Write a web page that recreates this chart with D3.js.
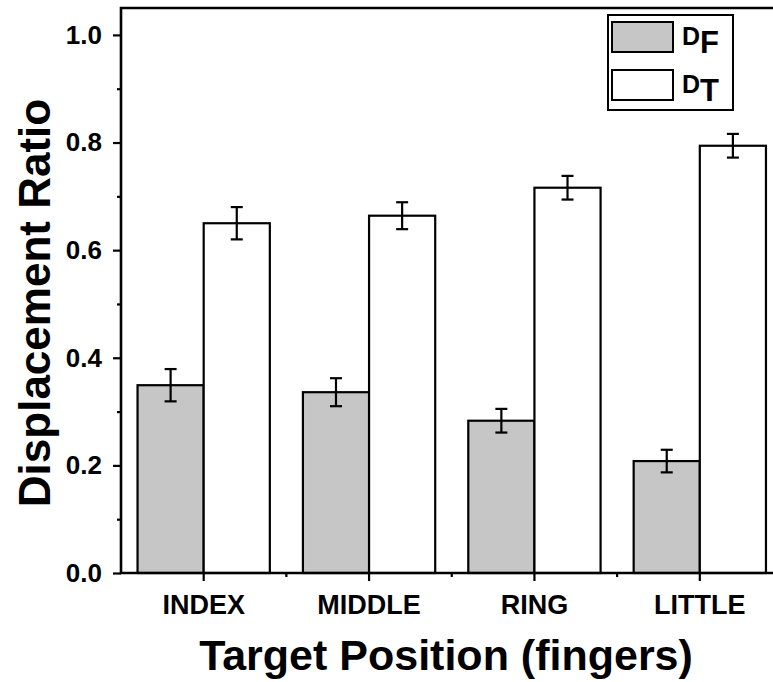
<!DOCTYPE html>
<html>
<head>
<meta charset="utf-8">
<script src="https://cdn.jsdelivr.net/npm/d3@7"></script>
<style>
  body { margin: 0; background: #fff; }
  svg { display: block; font-family: "Liberation Sans", Arial, sans-serif; font-weight: bold; }
</style>
</head>
<body>
<div id="chart"></div>
<script>
const categories = ['INDEX', 'MIDDLE', 'RING', 'LITTLE'];
const seriesNames = ['F', 'T'];
const dfValues = [0.349, 0.336, 0.283, 0.208];
const dfErrors = [0.030, 0.026, 0.022, 0.021];
const dtValues = [0.650, 0.664, 0.716, 0.794];
const dtErrors = [0.030, 0.025, 0.022, 0.022];
const yTicks = [0.0, 0.2, 0.4, 0.6, 0.8, 1.0];

const W = 773, H = 682;
const margin = {left: 121, right: 782.5, top: 8, bottom: 573};
const fontFamily = '"Liberation Sans", Arial, sans-serif';

const svg = d3.select('#chart').append('svg')
  .attr('width', W)
  .attr('height', H);

const x = d3.scaleBand()
  .domain(categories)
  .range([margin.left, margin.right])
  .paddingInner(0.2)
  .paddingOuter(0.1);

const xs = d3.scaleBand()
  .domain(seriesNames)
  .range([0, x.bandwidth()]);

const y = d3.scaleLinear()
  .domain([0, 1.05])
  .range([margin.bottom, margin.top]);

const series = [
  {name: 'F', fill: '#c6c6c6', values: dfValues, errors: dfErrors},
  {name: 'T', fill: '#ffffff', values: dtValues, errors: dtErrors}
];

// bars
series.forEach(s => {
  const rows = categories.map((c, i) => ({cat: c, v: s.values[i], e: s.errors[i]}));
  const g = svg.append('g');
  g.selectAll('rect')
    .data(rows)
    .join('rect')
      .attr('x', d => x(d.cat) + xs(s.name))
      .attr('y', d => y(d.v))
      .attr('width', xs.bandwidth())
      .attr('height', d => y(0) - y(d.v))
      .attr('fill', s.fill)
      .attr('stroke', '#000')
      .attr('stroke-width', 2.2);

  // error bars
  const eb = g.selectAll('g.err')
    .data(rows)
    .join('g')
      .attr('class', 'err')
      .attr('transform', d => `translate(${x(d.cat) + xs(s.name) + xs.bandwidth() / 2},0)`);
  eb.append('line')
    .attr('y1', d => y(d.v + d.e)).attr('y2', d => y(d.v - d.e))
    .attr('stroke', '#000').attr('stroke-width', 2.2);
  eb.selectAll('line.cap')
    .data(d => [d.v + d.e, d.v - d.e])
    .join('line')
      .attr('class', 'cap')
      .attr('x1', -6).attr('x2', 6)
      .attr('y1', d => y(d)).attr('y2', d => y(d))
      .attr('stroke', '#000').attr('stroke-width', 2.2);
});

// y axis
const yAxis = svg.append('g')
  .attr('transform', `translate(${margin.left},0)`)
  .call(d3.axisLeft(y).tickValues(yTicks).tickFormat(d3.format('.1f')).tickSize(8).tickPadding(11));
yAxis.select('.domain').remove();
yAxis.selectAll('text')
  .attr('font-size', 26).attr('font-weight', 'bold').attr('fill', '#000')
  .attr('font-family', fontFamily);
yAxis.selectAll('line').attr('stroke-width', 2.2);
svg.append('g')
  .attr('transform', `translate(${margin.left},0)`)
  .call(d3.axisLeft(y).tickValues(d3.range(0.1, 1.05, 0.2)).tickSize(4).tickFormat(''))
  .call(g => g.select('.domain').remove())
  .selectAll('line').attr('stroke-width', 2.2);

// x axis
const xAxis = svg.append('g')
  .attr('transform', `translate(0,${margin.bottom})`)
  .call(d3.axisBottom(x).tickSize(8));
xAxis.select('.domain').remove();
xAxis.selectAll('text')
  .attr('y', 41).attr('dy', null)
  .attr('font-size', 27).attr('font-weight', 'bold').attr('fill', '#000')
  .attr('font-family', fontFamily);
xAxis.selectAll('line').attr('stroke-width', 2.2);
// minor ticks between groups
svg.append('g')
  .selectAll('line')
  .data(categories.slice(1))
  .join('line')
    .attr('x1', d => x(d) - x.step() * x.paddingInner() / 2)
    .attr('x2', d => x(d) - x.step() * x.paddingInner() / 2)
    .attr('y1', margin.bottom).attr('y2', margin.bottom + 4)
    .attr('stroke', '#000').attr('stroke-width', 2.2);

// frame: left, bottom, top
svg.append('path')
  .attr('d', `M${W},${margin.top}H${margin.left}V${margin.bottom}H${W}`)
  .attr('fill', 'none')
  .attr('stroke', '#000')
  .attr('stroke-width', 2.6);

// axis titles
svg.append('text')
  .attr('transform', 'translate(50,303) rotate(-90)')
  .attr('text-anchor', 'middle')
  .attr('font-size', 44)
  .text('Displacement Ratio');

svg.append('text')
  .attr('x', 446)
  .attr('y', 670)
  .attr('text-anchor', 'middle')
  .attr('font-size', 43)
  .text('Target Position (fingers)');

// legend
const legend = svg.append('g').attr('transform', 'translate(608,15)');
legend.append('rect')
  .attr('width', 125).attr('height', 95)
  .attr('fill', '#fff').attr('stroke', '#000').attr('stroke-width', 2);
const items = legend.selectAll('g.item')
  .data(series)
  .join('g')
    .attr('class', 'item')
    .attr('transform', (d, i) => `translate(4,${7 + i * 48})`);
items.append('rect')
  .attr('width', 61).attr('height', 30)
  .attr('fill', d => d.fill)
  .attr('stroke', '#000').attr('stroke-width', 2);
const lt = items.append('text')
  .attr('x', 70).attr('y', 23);
lt.append('tspan').attr('font-size', 25).text('D');
lt.append('tspan').attr('font-size', 31).attr('dy', 8).text(d => d.name);
</script>
</body>
</html>
